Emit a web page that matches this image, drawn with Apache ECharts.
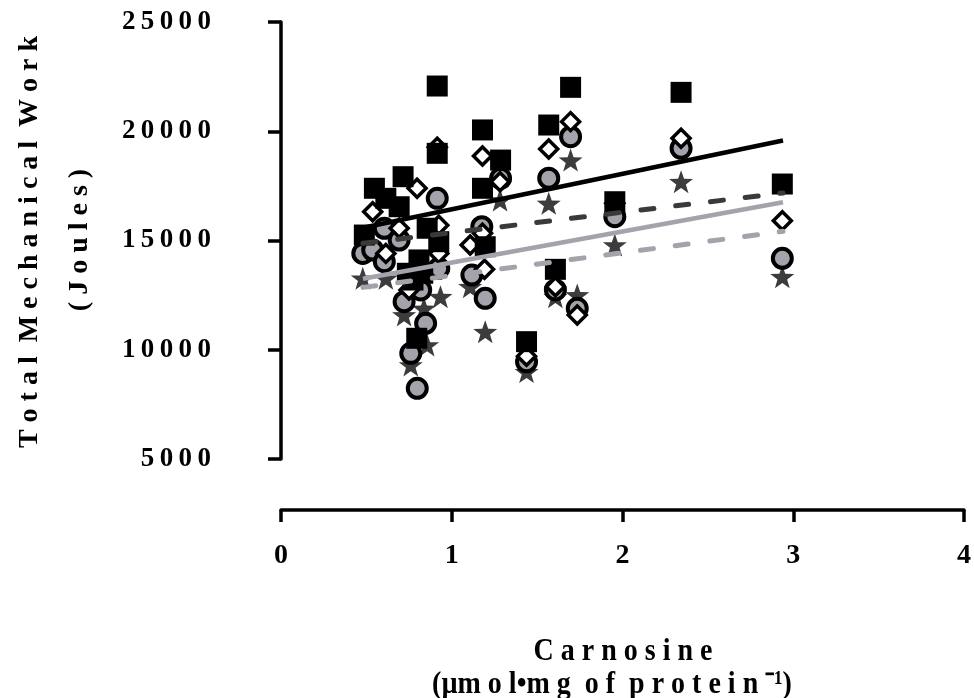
<!DOCTYPE html>
<html>
<head>
<meta charset="utf-8">
<script src="https://cdn.jsdelivr.net/npm/echarts@6/dist/echarts.min.js"></script>
<style>
  html, body { margin: 0; padding: 0; background: #fff; }
  #chart { width: 974px; height: 698px; }
</style>
</head>
<body>
<div id="chart"></div>
<script>
// carnosine (x) vs total mechanical work (y), four conditions
const squares = [
  [0.915, 22070], [1.180, 20060], [0.915, 18990], [1.286, 18680], [0.715, 17920],
  [0.547, 17390], [0.614, 16930], [0.692, 16545], [1.180, 17390], [0.488, 15250],
  [0.856, 15560], [0.924, 14945], [1.196, 14715], [0.808, 14110], [0.740, 13500],
  [0.773, 13190], [0.830, 13500], [0.795, 10525], [1.438, 10370], [1.568, 20285],
  [1.696, 22010], [2.343, 21780], [1.955, 16775], [2.936, 17585], [1.607, 13680]
];
const diamonds = [
  [0.915, 19265], [1.180, 18870], [1.283, 17690], [0.797, 17390], [0.537, 16320],
  [0.924, 15700], [0.692, 15560], [1.180, 15330], [1.108, 14790], [0.614, 14410],
  [0.924, 14410], [1.192, 13680], [0.750, 12735], [1.568, 19190], [1.696, 20440],
  [2.343, 19680], [1.955, 16700], [2.936, 15905], [1.607, 12885], [1.735, 11590],
  [1.438, 9700]
];
const circles = [
  [0.915, 16930], [1.286, 17845], [0.605, 15560], [1.176, 15630], [0.692, 15020],
  [0.479, 14410], [0.537, 14565], [0.605, 14030], [0.924, 13725], [1.118, 13420],
  [1.196, 12355], [0.721, 12200], [0.818, 12735], [0.847, 11210], [0.760, 9835],
  [0.798, 8235], [1.438, 9450], [1.568, 17850], [1.696, 19750], [2.343, 19220],
  [1.955, 16090], [2.936, 14185], [1.607, 12735], [1.735, 11895]
];
const stars = [
  [1.283, 16850], [0.479, 13270], [0.614, 13270], [0.934, 12430], [0.721, 11590],
  [0.837, 11895], [0.856, 10215], [0.760, 9300], [1.196, 10825], [1.108, 12885],
  [1.438, 9000], [1.568, 16700], [1.696, 18680], [2.343, 17690], [1.955, 14790],
  [2.936, 13345], [1.607, 12430], [1.735, 12505]
];

// regression lines: x range and y at each end
const fitX = [0.48, 2.94];
const fitSquares = [15580, 19580];
const fitDiamonds = [14870, 17175];
const fitCircles = [13250, 16750];
const fitStars = [12855, 15420];

const xTicks = ['0', '1', '2', '3', '4'];

const starPath = 'path://M50 0L61.76 33.82L97.55 34.55L69.02 56.18L79.39 90.45L50 70L20.61 90.45L30.98 56.18L2.45 34.55L38.24 33.82Z';
const spaced = s => s.split('').join('\u2009');
const font = 'Liberation Serif';

function fitLine(ys, color, dashed, width) {
  return {
    type: 'line',
    data: [[fitX[0], ys[0]], [fitX[1], ys[1]]],
    symbol: 'none',
    silent: true,
    lineStyle: {
      color: color,
      width: width,
      type: dashed ? [13, 22] : 'solid',
      cap: dashed ? 'round' : 'butt'
    }
  };
}

const chart = echarts.init(document.getElementById('chart'));
chart.setOption({
  animation: false,
  backgroundColor: '#fff',
  grid: { left: 281, right: 5, top: 22, bottom: 239 },
  xAxis: {
    type: 'value',
    min: 0, max: 4, interval: 1,
    offset: 51,
    axisLine: { lineStyle: { color: '#000', width: 3.5 } },
    axisTick: { length: 12, lineStyle: { color: '#000', width: 3.5 } },
    axisLabel: {
      margin: 32, color: '#000', fontFamily: font, fontWeight: 'bold', fontSize: 28,
      formatter: v => xTicks[Math.round(v)]
    },
    splitLine: { show: false }
  },
  yAxis: {
    type: 'value',
    min: 5000, max: 25000, interval: 5000,
    offset: 49,
    axisLine: { show: true, lineStyle: { color: '#000', width: 3.5 } },
    axisTick: { show: true, length: 13, lineStyle: { color: '#000', width: 3.5 } },
    axisLabel: {
      margin: 21, color: '#000', fontFamily: font, fontWeight: 'bold', fontSize: 27,
      formatter: v => spaced(String(v))
    },
    splitLine: { show: false }
  },
  graphic: [
    {
      type: 'text', x: 30, y: 242, rotation: Math.PI / 2,
      style: {
        text: 'T o t a l  M e c h a n i c a l  W o r k',
        font: 'bold 28px "Liberation Serif"', fill: '#000',
        textAlign: 'center', textVerticalAlign: 'middle'
      }
    },
    {
      type: 'text', x: 80, y: 240, rotation: Math.PI / 2,
      style: {
        text: '( J o u l e s )',
        font: 'bold 28px "Liberation Serif"', fill: '#000',
        textAlign: 'center', textVerticalAlign: 'middle'
      }
    },
    {
      type: 'text', x: 623, y: 652, scaleY: 1.15,
      style: {
        text: 'C a r n o s i n e',
        font: 'bold 28px "Liberation Serif"', fill: '#000',
        textAlign: 'center', textVerticalAlign: 'middle'
      }
    },
    {
      type: 'text', x: 612, y: 685, scaleY: 1.15,
      style: {
        text: '(µm o l•m g  o f  p r o t e i n \u207B\u00B9)',
        font: 'bold 28px "Liberation Serif"', fill: '#000',
        textAlign: 'center', textVerticalAlign: 'middle'
      }
    }
  ],
  series: [
    fitLine(fitStars, '#a3a3ab', true, 5),
    fitLine(fitCircles, '#a3a3ab', false, 4.5),
    fitLine(fitDiamonds, '#3a3a3a', true, 5),
    fitLine(fitSquares, '#000', false, 4.5),
    {
      type: 'scatter', data: stars, symbol: starPath, symbolSize: [24, 23],
      itemStyle: { color: '#3c3c3c', opacity: 1 }
    },
    {
      type: 'scatter', data: circles, symbol: 'circle', symbolSize: 19,
      itemStyle: { color: '#a3a3ab', borderColor: '#000', borderWidth: 4, opacity: 1 }
    },
    {
      type: 'scatter', data: diamonds, symbol: 'diamond', symbolSize: 18,
      itemStyle: { color: '#fff', borderColor: '#000', borderWidth: 3.5, opacity: 1 }
    },
    {
      type: 'scatter', data: squares, symbol: 'rect', symbolSize: 21,
      itemStyle: { color: '#000', opacity: 1 }
    }
  ]
});
</script>
</body>
</html>
